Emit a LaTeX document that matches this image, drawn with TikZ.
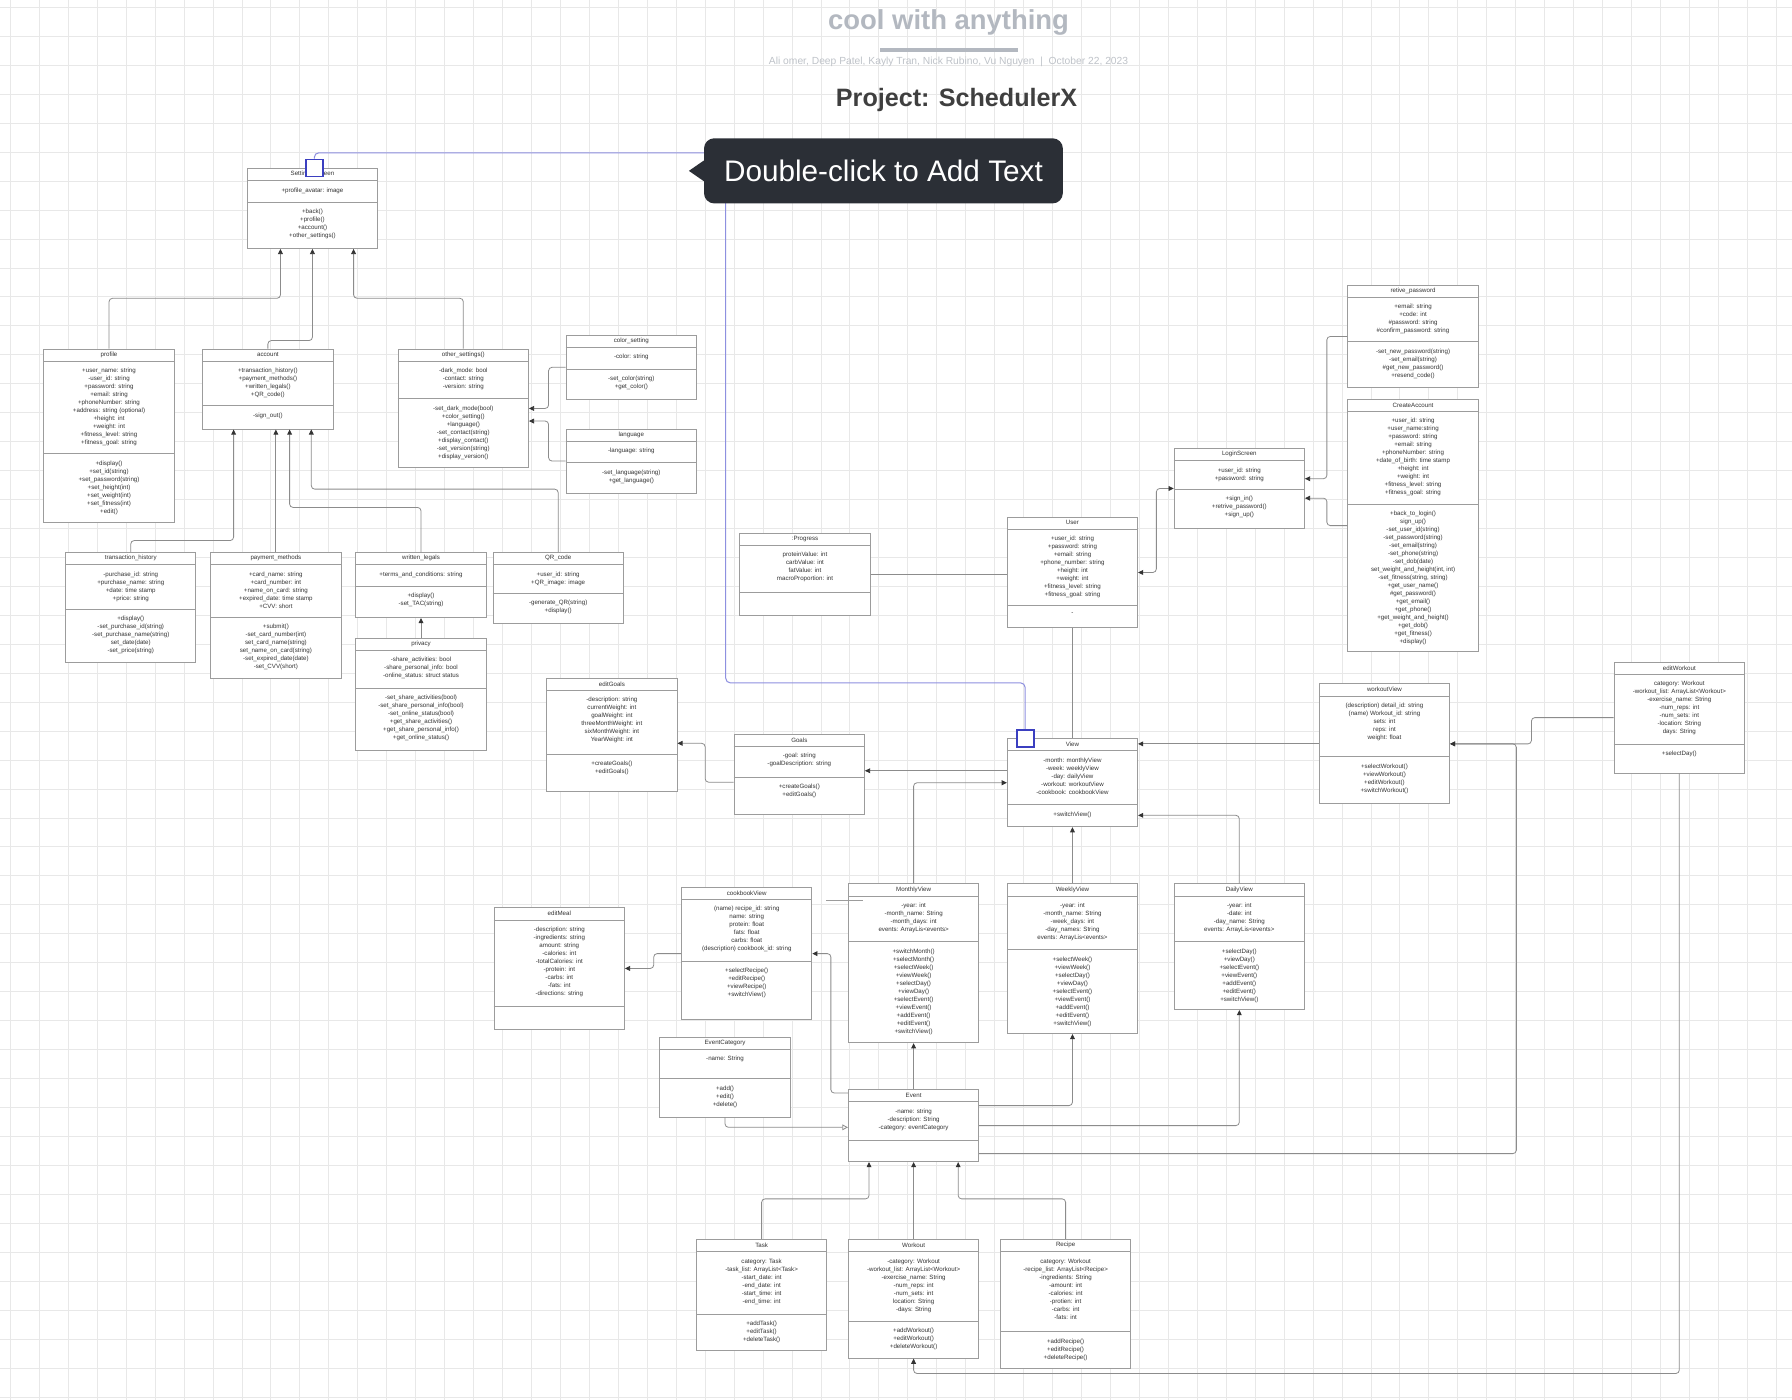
\documentclass[tikz,border=0pt]{standalone}
\usepackage{fontspec}
\setmainfont{Liberation Sans}
\usepackage{xcolor}
\usetikzlibrary{positioning,arrows.meta,calc}

\definecolor{gridgray}{HTML}{E8E8E8}
\definecolor{boxgray}{HTML}{9C9C9C}
\definecolor{linegray}{HTML}{8C8C8C}
\definecolor{titlegray}{HTML}{B3B8C0}
\definecolor{subgray}{HTML}{BFC3C9}
\definecolor{headgray}{HTML}{3F3F3F}
\definecolor{hintdark}{HTML}{2B2F36}
\definecolor{selblue}{HTML}{3B3FC0}
\definecolor{linkblue}{HTML}{8E90E0}

\tikzset{
  classbox/.style={draw=boxgray, line width=0.8pt, fill=white, rectangle, minimum width=114pt, inner sep=0pt, anchor=north west},
  classrule/.style={draw=boxgray, line width=0.8pt},
  classtext/.style={font=\fontsize{5.4}{7}\selectfont, text=black!80, align=center, inner sep=0pt},
  conn/.style={draw=linegray, line width=0.7pt, rounded corners=3pt, -{Stealth[inset=0pt,length=4.5pt,width=4.2pt,color=black!80]}},
  plainconn/.style={draw=linegray, line width=0.7pt, rounded corners=3pt},
  handle/.style={draw=selblue, line width=1.6pt, fill=white, minimum size=15pt, inner sep=0pt},
  hint/.style={fill=hintdark, text=white, rounded corners=9pt, minimum width=314pt, minimum height=57pt, font=\fontsize{26}{30}\selectfont}
}

% class box: name, top left, attribute height, operation height, title, attributes, operations
\newcommand{\umlclass}[7]{%
  \node[classbox, minimum height={(11+#3+#4)*1pt}] (#1) at (#2) {};
  \draw[classrule] ([yshift=-11pt]#1.north west) -- ([yshift=-11pt]#1.north east);
  \draw[classrule] ([yshift={-(11+#3)*1pt}]#1.north west) -- ([yshift={-(11+#3)*1pt}]#1.north east);
  \node[classtext] (#1-name) at ([yshift=-5.5pt]#1.north) {#5};
  \node[classtext, anchor=north] (#1-attr) at ([yshift=-17pt]#1.north) {#6};
  \node[classtext, anchor=north] (#1-ops) at ([yshift={-(11+#3+6)*1pt}]#1.north) {#7};
}

\begin{document}
\begin{tikzpicture}[x=1pt, y=-1pt]
    \useasboundingbox (0,0) rectangle (1568,1225);
    \fill[white] (0,0) rectangle (1568,1225);

    % Grid
    \foreach \gx in {0,...,61} \draw[gridgray, line width=0.6pt] ({9+25.33*\gx},0) -- ++(0,1225);
    \foreach \gy in {0,...,48} \draw[gridgray, line width=0.6pt] (0,{6.4+25.33*\gy}) -- ++(1568,0);

    % Heading
    \node[font=\bfseries\fontsize{24}{28}\selectfont, text=titlegray] (doctitle) at (830,20) {cool with anything};
    \draw[titlegray, line width=2.9pt] (770,43.7) -- (891,43.7);
    \node[font=\fontsize{9}{10}\selectfont, text=subgray] (authors) at (830,54.5) {Ali omer, Deep Patel, Kayly Tran, Nick Rubino, Vu Nguyen \ | \ October 22, 2023};
    \node[font=\bfseries\fontsize{22}{26}\selectfont, text=headgray] (project) at (837,87.5) {Project: SchedulerX};

    % Selection link
    \node[handle] (handleA) at (275,147) {};
    \node[handle] (handleB) at (897,646) {};
    \coordinate (bluebend) at (635,597.5);
    \draw[linkblue, line width=0.9pt, rounded corners=4pt] (handleA.north) -- ++(0,-5) -| (bluebend) -| (handleB.north);

    % Settings classes
    \umlclass{settings}{216,147}{19}{40}{Settings Screen}{+profile\_avatar: image}{+back()\\+profile()\\+account()\\+other\_settings()}
    \umlclass{profile}{38,305}{81}{60}{profile}{+user\_name: string\\-user\_id: string\\+password: string\\+email: string\\+phoneNumber: string\\+address: string (optional)\\+height: int\\+weight: int\\+fitness\_level: string\\+fitness\_goal: string}{+display()\\+set\_id(string)\\+set\_password(string)\\+set\_height(int)\\+set\_weight(int)\\+set\_fitness(int)\\+edit()}
    \umlclass{account}{177,305}{39}{20}{account}{+transaction\_history()\\+payment\_methods()\\+written\_legals()\\+QR\_code()}{-sign\_out()}
    \umlclass{othersettings}{348,305}{33}{60}{other\_settings()}{-dark\_mode: bool\\-contact: string\\-version: string}{-set\_dark\_mode(bool)\\+color\_setting()\\+language()\\-set\_contact(string)\\+display\_contact()\\-set\_version(string)\\+display\_version()}
    \umlclass{colorsetting}{495,293}{19}{26}{color\_setting}{-color: string}{-set\_color(string)\\+get\_color()}
    \umlclass{language}{495,375}{19}{26}{language}{-language: string}{-set\_language(string)\\+get\_language()}
    \umlclass{transhistory}{57,483}{39}{46}{transaction\_history}{-purchase\_id: string\\+purchase\_name: string\\+date: time stamp\\+price: string}{+display()\\-set\_purchase\_id(string)\\-set\_purchase\_name(string)\\set\_date(date)\\-set\_price(string)}
    \umlclass{paymethods}{184,483}{46}{53}{payment\_methods}{+card\_name: string\\+card\_number: int\\+name\_on\_card: string\\+expired\_date: time stamp\\+CVV: short}{+submit()\\-set\_card\_number(int)\\set\_card\_name(string)\\set\_name\_on\_card(string)\\-set\_expired\_date(date)\\-set\_CVV(short)}
    \umlclass{legals}{311,483}{19}{27}{written\_legals}{+terms\_and\_conditions: string}{+display()\\-set\_TAC(string)}
    \umlclass{qrcode}{431,483}{25}{26}{QR\_code}{+user\_id: string\\+QR\_image: image}{-generate\_QR(string)\\+display()}
    \umlclass{privacy}{311,558}{33}{54}{privacy}{-share\_activities: bool\\-share\_personal\_info: bool\\-online\_status: struct status}{-set\_share\_activities(bool)\\-set\_share\_personal\_info(bool)\\-set\_online\_status(bool)\\+get\_share\_activities()\\+get\_share\_personal\_info()\\+get\_online\_status()}

    % Login classes
    \umlclass{retivepw}{1179,249}{39}{40}{retive\_password}{+email: string\\+code: int\\\#password: string\\\#confirm\_password: string}{-set\_new\_password(string)\\-set\_email(string)\\\#get\_new\_password()\\+resend\_code()}
    \umlclass{createacc}{1179,349}{81}{129}{CreateAccount}{+user\_id: string\\+user\_name:string\\+password: string\\+email: string\\+phoneNumber: string\\+date\_of\_birth: time stamp\\+height: int\\+weight: int\\+fitness\_level: string\\+fitness\_goal: string}{+back\_to\_login()\\sign\_up()\\-set\_user\_id(string)\\-set\_password(string)\\-set\_email(string)\\-set\_phone(string)\\-set\_dob(date)\\set\_weight\_and\_height(int, int)\\-set\_fitness(string, string)\\+get\_user\_name()\\\#get\_password()\\+get\_email()\\+get\_phone()\\+get\_weight\_and\_height()\\+get\_dob()\\+get\_fitness()\\+display()}
    \umlclass{login}{1027,392}{25}{34}{LoginScreen}{+user\_id: string\\+password: string}{+sign\_in()\\+retrive\_password()\\+sign\_up()}
    \umlclass{user}{881,452}{67}{19}{User}{+user\_id: string\\+password: string\\+email: string\\+phone\_number: string\\+height: int\\+weight: int\\+fitness\_level: string\\+fitness\_goal: string}{-}
    \umlclass{progress}{647,466}{41}{20}{:Progress}{proteinValue: int\\carbValue: int\\fatValue: int\\macroProportion: int}{}

    % Goal and view classes
    \umlclass{editgoals}{478,593}{56}{32}{editGoals}{-description: string\\currentWeight: int\\goalWeight: int\\threeMonthWeight: int\\sixMonthWeight: int\\YearWeight: int}{+createGoals()\\+editGoals()}
    \umlclass{goals}{642,642}{27}{32}{Goals}{-goal: string\\-goalDescription: string}{+createGoals()\\+editGoals()}
    \umlclass{view}{881,646}{47}{19}{View}{-month: monthlyView\\-week: weeklyView\\-day: dailyView\\-workout: workoutView\\-cookbook: cookbookView}{+switchView()}
    \umlclass{workoutview}{1154,598}{53}{41}{workoutView}{(description) detail\_id: string\\(name) Workout\_id: string\\sets: int\\reps: int\\weight: float}{+selectWorkout()\\+viewWorkout()\\+editWorkout()\\+switchWorkout()}
    \umlclass{editworkout}{1412,579}{61}{25}{editWorkout}{category: Workout\\-workout\_list: ArrayList<Workout>\\-exercise\_name: String\\-num\_reps: int\\-num\_sets: int\\-location: String\\days: String}{+selectDay()}
    \umlclass{editmeal}{432,794}{76}{19}{editMeal}{-description: string\\-ingredients: string\\amount: string\\-calories: int\\-totalCalories: int\\-protein: int\\-carbs: int\\-fats: int\\-directions: string}{}
    \umlclass{cookbook}{596,776}{54}{51}{cookbookView}{(name) recipe\_id: string\\name: string\\protein: float\\fats: float\\carbs: float\\(description) cookbook\_id: string}{+selectRecipe()\\+editRecipe()\\+viewRecipe()\\+switchView()}
    \umlclass{monthly}{742,773}{40}{88}{MonthlyView}{-year: int\\-month\_name: String\\-month\_days: int\\events: ArrayLis<events>}{+switchMonth()\\+selectMonth()\\+selectWeek()\\+viewWeek()\\+selectDay()\\+viewDay()\\+selectEvent()\\+viewEvent()\\+addEvent()\\+editEvent()\\+switchView()}
    \umlclass{weekly}{881,773}{47}{73}{WeeklyView}{-year: int\\-month\_name: String\\-week\_days: int\\-day\_names: String\\events: ArrayLis<events>}{+selectWeek()\\+viewWeek()\\+selectDay()\\+viewDay()\\+selectEvent()\\+viewEvent()\\+addEvent()\\+editEvent()\\+switchView()}
    \umlclass{daily}{1027,773}{40}{59}{DailyView}{-year: int\\-date: int\\-day\_name: String\\events: ArrayLis<events>}{+selectDay()\\+viewDay()\\+selectEvent()\\+viewEvent()\\+addEvent()\\+editEvent()\\+switchView()}
    \draw[classrule] (723,787.5) -- (755,787.5);

    % Event classes
    \umlclass{eventcat}{577,907}{26}{33}{EventCategory}{-name: String}{+add()\\+edit()\\+delete()}
    \umlclass{event}{742,953}{34}{18}{Event}{-name: string\\-description: String\\-category: eventCategory}{}
    \umlclass{task}{609,1084}{55}{31}{Task}{category: Task\\-task\_list: ArrayList<Task>\\-start\_date: int\\-end\_date: int\\-start\_time: int\\-end\_time: int}{+addTask()\\+editTask()\\+deleteTask()}
    \umlclass{workout}{742,1084}{61}{32}{Workout}{-category: Workout\\-workout\_list: ArrayList<Workout>\\-exercise\_name: String\\-num\_reps: int\\-num\_sets: int\\location: String\\-days: String}{+addWorkout()\\+editWorkout()\\+deleteWorkout()}
    \umlclass{recipe}{875,1084}{70}{32}{Recipe}{category: Workout\\-recipe\_list: ArrayList<Recipe>\\-ingredients: String\\-amount: int\\-calories: int\\-protien: int\\-carbs: int\\-fats: int}{+addRecipe()\\+editRecipe()\\+deleteRecipe()}

    % Settings links
    \draw[conn] (profile.north) -- ++(0,-44) -| ([xshift=-28pt]settings.south);
    \draw[conn] (account.north) -- ++(0,-7) -| (settings.south);
    \draw[conn] (othersettings.north) -- ++(0,-44) -| ([xshift=36pt]settings.south);
    \draw[conn] (colorsetting.west) -- ++(-15,0) |- (othersettings.east);
    \draw[conn] (language.west) -- ++(-15,0) |- ([yshift=-11pt]othersettings.east);
    \draw[conn] (transhistory.north) -- ++(0,-10) -| ([xshift=-30pt]account.south);
    \draw[conn] (paymethods.north) -- (paymethods.north |- account.south);
    \draw[conn] (legals.north) -- ++(0,-39) -| ([xshift=19pt]account.south);
    \draw[conn] (qrcode.north) -- ++(0,-55) -| ([xshift=38pt]account.south);
    \draw[conn] (privacy.north) -- (legals.south);

    % Login links
    \draw[conn] (retivepw.west) -- ++(-18,0) |- ([yshift=8.5pt]login.east);
    \draw[conn] (createacc.west) -- ++(-18,0) |- ([yshift=-8.5pt]login.east);
    \draw[conn, {Stealth[inset=0pt,length=4.5pt,width=4.2pt,color=black!80]}-{Stealth[inset=0pt,length=4.5pt,width=4.2pt,color=black!80]}] (user.east) -- ++(16,0) |- (login.west);
    \draw[plainconn] (progress.east) -- (progress.east -| user.west);
    \draw[plainconn] (user.south) -- (view.north);

    % View links
    \draw[conn] ([yshift=10.5pt]view.west) -- ([yshift=10.5pt]view.west -| goals.east);
    \draw[conn] ([yshift=-7pt]goals.west) -- ++(-25,0) |- ([yshift=-7.5pt]editgoals.east);
    \draw[conn] (monthly.north) |- (view.west);
    \draw[conn] (weekly.north) -- (view.south);
    \draw[conn] (daily.north) |- ([yshift=-28.5pt]view.east);
    \draw[conn] (workoutview.west) -- (workoutview.west -| view.east);
    \draw[conn] (editworkout.west) -- ++(-72,0) |- (workoutview.east);

    % Event links
    \draw[conn] ([yshift=-24.5pt]event.east) -| ([xshift=58pt]workoutview.east) -- (workoutview.east);
    \draw[conn] (event.east) -| (daily.south);
    \draw[conn] ([yshift=17.5pt]event.east) -| (weekly.south);
    \draw[conn] (event.north) -- (monthly.south);
    \draw[conn] ([yshift=28.5pt]event.west) -- ++(-15,0) |- (cookbook.east);
    \draw[conn] (cookbook.west) -- ++(-24,0) |- (editmeal.east);
    \draw[plainconn, -{Stealth[open,inset=0pt,length=5pt,width=5pt,color=linegray,fill=white]}] (eventcat.south) |- ([yshift=-1.5pt]event.west);
    \draw[conn] (task.north) -- ++(0,-35) -| ([xshift=-39pt]event.south);
    \draw[conn] (workout.north) -- (event.south);
    \draw[conn] (recipe.north) -- ++(0,-35) -| ([xshift=39pt]event.south);
    \draw[conn] (editworkout.south) |- ([yshift=-13pt]workout.south) -- (workout.south);

    % Hint bubble
    \node[hint] (hint) at (773,149.5) {Double-click to Add Text};
    \fill[hintdark] ([yshift=9pt]hint.west) -- ([xshift=-13pt]hint.west) -- ([yshift=-9pt]hint.west) -- cycle;

    % Selection squares on top
    \node[handle] at (handleA) {};
    \node[handle] at (handleB) {};
\end{tikzpicture}
\end{document}
